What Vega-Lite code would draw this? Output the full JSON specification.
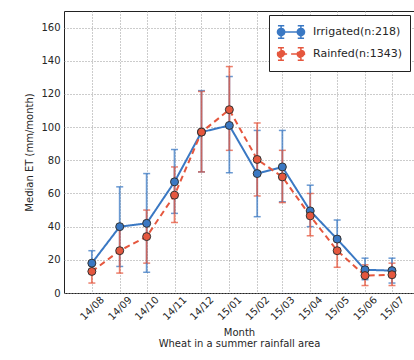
{
  "$schema": "https://vega.github.io/schema/vega-lite/v6.json",
  "width": 350,
  "height": 282,
  "autosize": {"type": "none"},
  "padding": {"left": 64, "top": 11, "right": 0, "bottom": 67},
  "background": "white",
  "config": {
    "font": "DejaVu Sans",
    "view": {"stroke": "#222222", "strokeWidth": 1},
    "axis": {
      "labelFont": "DejaVu Sans",
      "titleFont": "DejaVu Sans",
      "labelFontSize": 10,
      "titleFontSize": 10,
      "titleFontWeight": "normal",
      "labelColor": "#262626",
      "titleColor": "#262626",
      "grid": true,
      "gridColor": "#999999",
      "gridDash": [1, 2],
      "gridWidth": 1,
      "domain": false,
      "ticks": false
    }
  },
  "data": {
    "values": [
      {"month": "2014-08-01", "series": "Irrigated(n:218)", "et": 18, "lo": 12, "hi": 25.5},
      {"month": "2014-09-01", "series": "Irrigated(n:218)", "et": 40, "lo": 16, "hi": 64},
      {"month": "2014-10-01", "series": "Irrigated(n:218)", "et": 42, "lo": 12.5, "hi": 72},
      {"month": "2014-11-01", "series": "Irrigated(n:218)", "et": 67, "lo": 48, "hi": 86.5},
      {"month": "2014-12-01", "series": "Irrigated(n:218)", "et": 97, "lo": 73, "hi": 122},
      {"month": "2015-01-01", "series": "Irrigated(n:218)", "et": 101, "lo": 72.5, "hi": 130.5},
      {"month": "2015-02-01", "series": "Irrigated(n:218)", "et": 72, "lo": 46, "hi": 98},
      {"month": "2015-03-01", "series": "Irrigated(n:218)", "et": 76, "lo": 55, "hi": 98},
      {"month": "2015-04-01", "series": "Irrigated(n:218)", "et": 49.5, "lo": 40, "hi": 65},
      {"month": "2015-05-01", "series": "Irrigated(n:218)", "et": 32.5, "lo": 24, "hi": 44},
      {"month": "2015-06-01", "series": "Irrigated(n:218)", "et": 14, "lo": 8, "hi": 21},
      {"month": "2015-07-01", "series": "Irrigated(n:218)", "et": 13.5, "lo": 6, "hi": 21},
      {"month": "2014-08-01", "series": "Rainfed(n:1343)", "et": 13, "lo": 6, "hi": 19},
      {"month": "2014-09-01", "series": "Rainfed(n:1343)", "et": 25.5, "lo": 12, "hi": 40},
      {"month": "2014-10-01", "series": "Rainfed(n:1343)", "et": 34, "lo": 18, "hi": 50},
      {"month": "2014-11-01", "series": "Rainfed(n:1343)", "et": 59, "lo": 42.5, "hi": 76},
      {"month": "2014-12-01", "series": "Rainfed(n:1343)", "et": 97, "lo": 73, "hi": 121.5},
      {"month": "2015-01-01", "series": "Rainfed(n:1343)", "et": 110.5, "lo": 86, "hi": 136.5},
      {"month": "2015-02-01", "series": "Rainfed(n:1343)", "et": 80.5, "lo": 58.5, "hi": 102.5},
      {"month": "2015-03-01", "series": "Rainfed(n:1343)", "et": 70, "lo": 54.5, "hi": 86},
      {"month": "2015-04-01", "series": "Rainfed(n:1343)", "et": 46.5, "lo": 34.5, "hi": 60},
      {"month": "2015-05-01", "series": "Rainfed(n:1343)", "et": 25.5, "lo": 15.5, "hi": 34},
      {"month": "2015-06-01", "series": "Rainfed(n:1343)", "et": 10.5, "lo": 4.5, "hi": 17},
      {"month": "2015-07-01", "series": "Rainfed(n:1343)", "et": 11, "lo": 4.5, "hi": 18}
    ]
  },
  "encoding": {
    "x": {
      "field": "month",
      "type": "temporal",
      "scale": {
        "type": "utc",
        "domain": [
          {"year": 2014, "month": 7, "date": 1, "utc": true},
          {"year": 2015, "month": 7, "date": 25, "hours": 12, "utc": true}
        ]
      },
      "axis": {
        "title": ["Month", "Wheat in a summer rainfall area"],
        "titleLineHeight": 10.5,
        "titlePadding": 6,
        "values": [
          {"year": 2014, "month": 8, "date": 1, "utc": true},
          {"year": 2014, "month": 9, "date": 1, "utc": true},
          {"year": 2014, "month": 10, "date": 1, "utc": true},
          {"year": 2014, "month": 11, "date": 1, "utc": true},
          {"year": 2014, "month": 12, "date": 1, "utc": true},
          {"year": 2015, "month": 1, "date": 1, "utc": true},
          {"year": 2015, "month": 2, "date": 1, "utc": true},
          {"year": 2015, "month": 3, "date": 1, "utc": true},
          {"year": 2015, "month": 4, "date": 1, "utc": true},
          {"year": 2015, "month": 5, "date": 1, "utc": true},
          {"year": 2015, "month": 6, "date": 1, "utc": true},
          {"year": 2015, "month": 7, "date": 1, "utc": true}
        ],
        "labelExpr": "utcFormat(datum.value, '%y/%m')",
        "labelAngle": -45,
        "labelAlign": "center",
        "labelBaseline": "middle",
        "labelPadding": 15,
        "labelOverlap": false
      }
    },
    "y": {
      "field": "et",
      "type": "quantitative",
      "scale": {"domain": [0, 170], "nice": false},
      "axis": {
        "title": "Median ET (mm/month)",
        "values": [0, 20, 40, 60, 80, 100, 120, 140, 160],
        "labelPadding": 4,
        "titlePadding": 6
      }
    },
    "color": {
      "field": "series",
      "type": "nominal",
      "scale": {
        "domain": ["Irrigated(n:218)", "Rainfed(n:1343)"],
        "range": ["#3a78c3", "#e5573e"]
      },
      "legend": {
        "title": null,
        "orient": "top-right",
        "offset": 4,
        "padding": 7,
        "strokeColor": "#222222",
        "fillColor": "white",
        "cornerRadius": 0,
        "labelFont": "DejaVu Sans",
        "labelFontSize": 11,
        "labelColor": "#262626",
        "symbolType": "M-1.1,0H1.1M-1.5,0A0.4,0.4 0 1,0 -0.7,0A0.4,0.4 0 1,0 -1.5,0M0.7,0A0.4,0.4 0 1,0 1.5,0A0.4,0.4 0 1,0 0.7,0M-1.1,-0.7V0.7M1.1,-0.7V0.7M-1.45,-0.7H-0.75M-1.45,0.7H-0.75M0.75,-0.7H1.45M0.75,0.7H1.45",
        "symbolSize": 324,
        "symbolStrokeWidth": 1.5,
        "symbolOffset": 5,
        "labelOffset": 12,
        "rowPadding": 2,
        "encode": {
          "symbols": {"update": {"fill": {"scale": "color", "field": "value"}}}
        }
      }
    }
  },
  "layer": [
    {
      "mark": {
        "type": "errorbar",
        "ticks": {"size": 7, "thickness": 1.5},
        "rule": {"strokeWidth": 1.8},
        "opacity": 0.75
      },
      "encoding": {
        "y": {
          "field": "lo",
          "type": "quantitative",
          "scale": {"domain": [0, 170], "nice": false},
          "axis": {
            "title": "Median ET (mm/month)",
            "values": [0, 20, 40, 60, 80, 100, 120, 140, 160],
            "labelPadding": 4,
            "titlePadding": 6
          }
        },
        "y2": {"field": "hi"}
      }
    },
    {
      "mark": {"type": "line", "strokeWidth": 2},
      "encoding": {
        "strokeDash": {
          "field": "series",
          "type": "nominal",
          "scale": {
            "domain": ["Irrigated(n:218)", "Rainfed(n:1343)"],
            "range": [[1, 0], [6, 4]]
          },
          "legend": null
        }
      }
    },
    {
      "mark": {"type": "point", "filled": true, "size": 64, "opacity": 1, "stroke": "#333333", "strokeWidth": 1}
    }
  ]
}
